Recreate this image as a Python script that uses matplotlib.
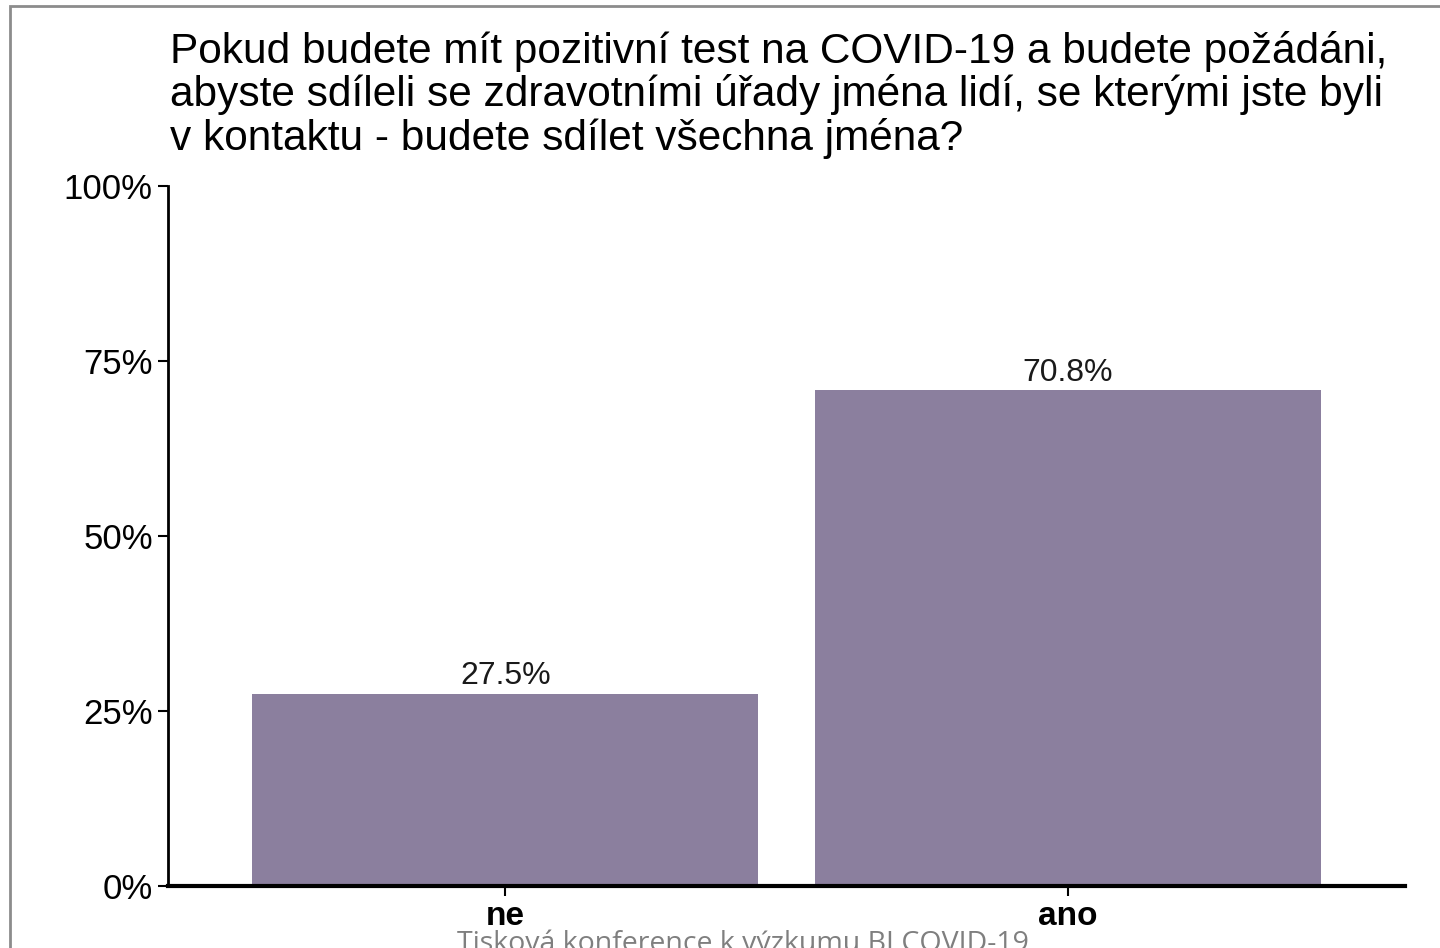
import matplotlib
matplotlib.use("Agg")
import matplotlib.pyplot as plt
from matplotlib.patches import Rectangle
from matplotlib.ticker import PercentFormatter

# Survey answers
categories = ["ne", "ano"]
shares = [0.275, 0.708]
value_labels = ["27.5%", "70.8%"]

title = ("Pokud budete mít pozitivní test na COVID-19 a budete požádáni,\n"
         "abyste sdíleli se zdravotními úřady jména lidí, se kterými jste byli\n"
         "v kontaktu - budete sdílet všechna jména?")
footer = "Tisková konference k výzkumu BI COVID-19"

plt.rcParams['font.family'] = ['Liberation Sans', 'DejaVu Sans']

fig = plt.figure(figsize=(14.4, 9.48), dpi=100)
ax = fig.add_axes([168 / 1440, 1 - 886 / 948, (1405 - 168) / 1440, (886 - 186) / 948])

x = range(len(categories))
ax.bar(x, shares, width=0.9, color="#8b7f9e")
for xi, val, lab in zip(x, shares, value_labels):
    ax.text(xi, val + 0.003, lab, ha="center", va="bottom", fontsize=23, color="#1a1a1a")

ax.set_xlim(-0.6, 1.6)
ax.set_ylim(0, 1)
ax.set_yticks([0, 0.25, 0.5, 0.75, 1.0])
ax.yaxis.set_major_formatter(PercentFormatter(1.0, decimals=0))
ax.set_xticks(list(x))
ax.set_xticklabels(categories, fontsize=24, fontweight="bold")
ax.tick_params(axis="y", labelsize=25, length=7, width=1.5, pad=4)
ax.tick_params(axis="x", length=7, width=1.5, pad=4)

for side in ["top", "right"]:
    ax.spines[side].set_visible(False)
ax.spines["left"].set_linewidth(2)
ax.spines["bottom"].set_linewidth(3)

# baseline of the last title line
fig.text(170 / 1440, 1 - 150 / 948, title, ha="left", va="baseline", fontsize=30.5,
         linespacing=1.08, color="black")

fig.text(743 / 1440, 1 - 951 / 948, footer, ha="center", va="baseline", fontsize=20.5,
         color="#7f7f7f", family=["Open Sans", "DejaVu Sans"])

# thin frame visible on top and left edge
fig.add_artist(Rectangle((10 / 1440, -0.1), 1.2, 1 - 6 / 948 + 0.1, transform=fig.transFigure,
                         fill=False, edgecolor="#8c8c8c", linewidth=2))

fig.savefig("out.png", dpi=100)
